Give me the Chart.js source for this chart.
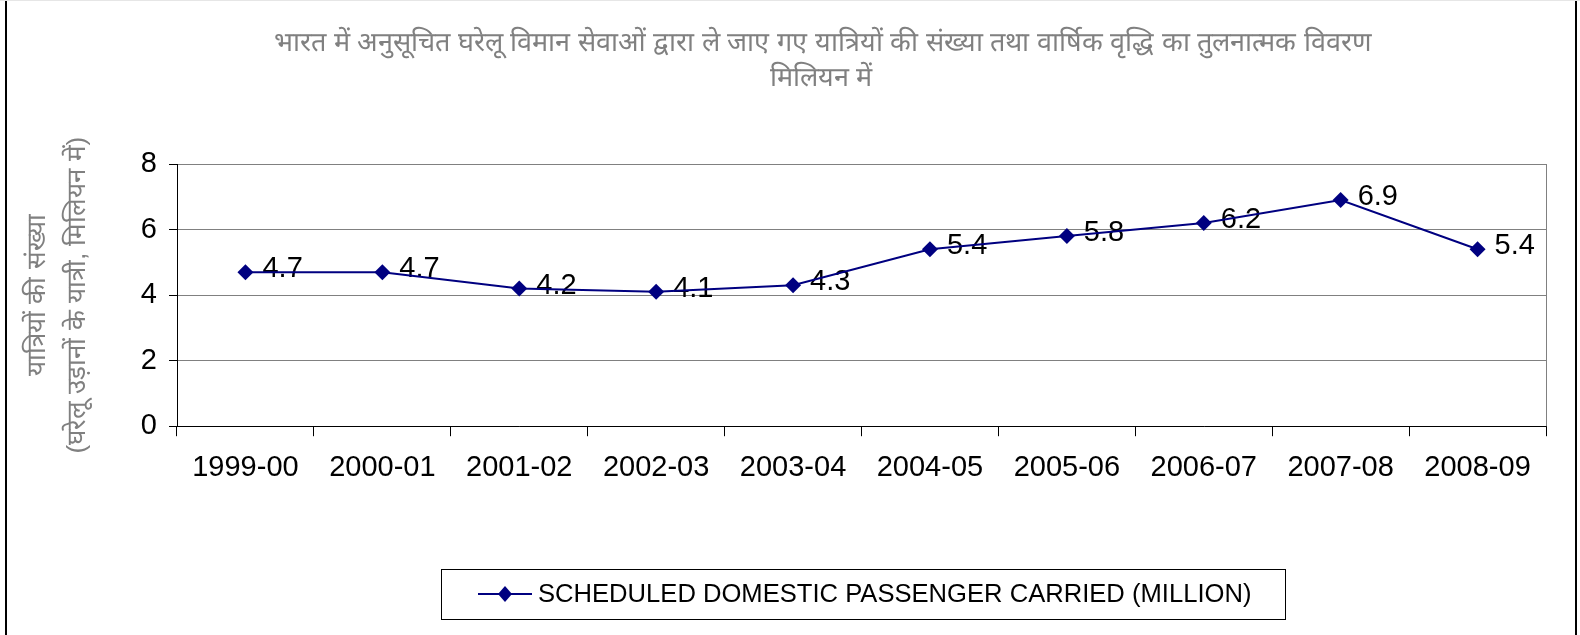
<!DOCTYPE html>
<html>
<head>
<meta charset="utf-8">
<script src="https://cdn.jsdelivr.net/npm/chart.js@4/dist/chart.umd.min.js"></script>
<style>
  html, body { margin: 0; padding: 0; background: #fff; }
  #wrap { width: 1580px; height: 635px; position: relative; }
</style>
</head>
<body>
<div id="wrap"><canvas id="chart"></canvas></div>
<script>
// Podaci sa grafikona
const years = ['1999-00', '2000-01', '2001-02', '2002-03', '2003-04', '2004-05', '2005-06', '2006-07', '2007-08', '2008-09'];
const passengers = [4.7, 4.7, 4.2, 4.1, 4.3, 5.4, 5.8, 6.2, 6.9, 5.4];
const yTicks = [0, 2, 4, 6, 8];
const seriesLabel = 'SCHEDULED DOMESTIC PASSENGER CARRIED (MILLION)';
const titleLines = [
    'भारत में अनुसूचित घरेलू विमान सेवाओं द्वारा ले जाए गए यात्रियों की संख्या तथा वार्षिक वृद्धि का तुलनात्मक विवरण',
    'मिलियन में'
];
const yTitleLines = ['यात्रियों की संख्या', '(घरेलू उड़ानों के यात्री, मिलियन में)'];

const navy = '#000080';
const FONT = '"Liberation Sans", Arial, sans-serif';

// Okvir, naslov, linija desne ivice i legenda
const frame = {
    id: 'frame',
    beforeDraw(chart) {
        const c = chart.ctx;
        c.save();
        c.fillStyle = '#fff';
        c.fillRect(0, 0, chart.width, chart.height);
        c.strokeStyle = '#000';
        c.lineWidth = 2;
        c.beginPath();
        c.moveTo(6, 0); c.lineTo(6, chart.height);
        c.moveTo(1576, 0); c.lineTo(1576, chart.height);
        c.stroke();
        c.strokeStyle = '#e6e6e6';
        c.lineWidth = 1;
        c.beginPath(); c.moveTo(0, 0.5); c.lineTo(chart.width, 0.5); c.stroke();
        c.restore();
    },
    beforeDatasetsDraw(chart) {
        const a = chart.chartArea, c = chart.ctx;
        c.save();
        c.strokeStyle = '#808080';
        c.lineWidth = 1;
        c.beginPath();
        c.moveTo(Math.round(a.right) + 0.5, a.top);
        c.lineTo(Math.round(a.right) + 0.5, a.bottom);
        c.stroke();
        c.restore();
    },
    afterDraw(chart) {
        const c = chart.ctx;
        c.save();
        // naslov
        c.fillStyle = '#808080';
        c.font = '27px ' + FONT;
        c.textAlign = 'center';
        c.textBaseline = 'middle';
        c.fillText(titleLines[0], 823, 44);
        c.fillText(titleLines[1], 821, 79);
        // legenda
        c.strokeStyle = '#000';
        c.lineWidth = 1;
        c.strokeRect(441.5, 569.5, 844, 50);
        c.strokeStyle = navy;
        c.lineWidth = 2;
        c.beginPath(); c.moveTo(478, 594); c.lineTo(532, 594); c.stroke();
        c.fillStyle = navy;
        c.beginPath();
        c.moveTo(505, 586); c.lineTo(512, 594); c.lineTo(505, 602); c.lineTo(498, 594);
        c.closePath(); c.fill();
        c.fillStyle = '#000';
        c.font = '25.6px ' + FONT;
        c.textAlign = 'left';
        c.fillText(seriesLabel, 538, 595);
        c.restore();
    }
};

// Vrednosti pored tačaka
const pointLabels = {
    id: 'pointLabels',
    beforeDatasetsDraw(chart) {
        const c = chart.ctx;
        const meta = chart.getDatasetMeta(0);
        c.save();
        c.fillStyle = '#000';
        c.font = '29px ' + FONT;
        c.textAlign = 'left';
        c.textBaseline = 'middle';
        meta.data.forEach((pt, i) => {
            c.fillText(passengers[i].toFixed(1), pt.x + 17, pt.y - 3);
        });
        c.restore();
    }
};

new Chart(document.getElementById('chart'), {
    type: 'line',
    data: {
        labels: years,
        datasets: [{
            label: seriesLabel,
            data: passengers,
            borderColor: navy,
            backgroundColor: navy,
            borderWidth: 2,
            tension: 0,
            pointStyle: 'rectRot',
            pointRadius: 8,
            pointHoverRadius: 8,
            pointBorderWidth: 0
        }]
    },
    options: {
        responsive: true,
        maintainAspectRatio: false,
        animation: false,
        events: [],
        layout: { padding: { top: 164, right: 34, bottom: 136, left: 18 } },
        plugins: {
            legend: { display: false },
            title: { display: false },
            tooltip: { enabled: false }
        },
        scales: {
            x: {
                offset: true,
                grid: {
                    offset: true,
                    drawOnChartArea: false,
                    tickLength: 10,
                    tickColor: '#000'
                },
                border: { color: '#000', width: 1 },
                ticks: {
                    color: '#000',
                    font: { family: FONT, size: 29 },
                    padding: 14,
                    maxRotation: 0
                }
            },
            y: {
                min: 0,
                max: 8,
                afterFit: (scale) => { scale.width = 159; },
                afterBuildTicks: (scale) => { scale.ticks = yTicks.map(v => ({ value: v })); },
                grid: {
                    color: '#808080',
                    tickColor: '#000',
                    tickLength: 8
                },
                border: { color: '#000', width: 1 },
                ticks: {
                    color: '#000',
                    font: { family: FONT, size: 29 },
                    padding: 12
                },
                title: {
                    display: true,
                    text: yTitleLines,
                    color: '#808080',
                    font: { family: FONT, size: 26, lineHeight: '40px' },
                    padding: 0
                }
            }
        }
    },
    plugins: [frame, pointLabels]
});
</script>
</body>
</html>
